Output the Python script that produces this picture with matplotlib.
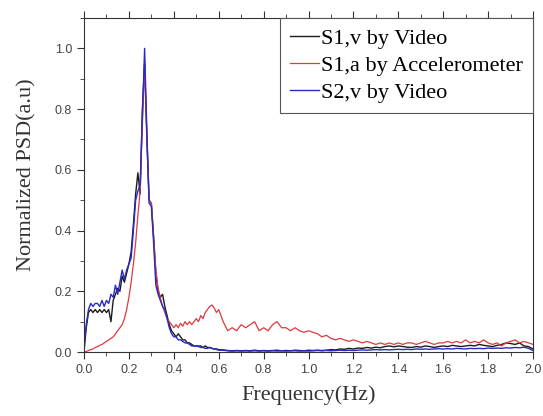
import numpy as np
import matplotlib
matplotlib.use("Agg")
import matplotlib.pyplot as plt
from matplotlib.ticker import MultipleLocator

## donnees lues sur la figure
# partie basse frequence, pas 0.01 Hz (0.00 -> 0.60)
f_lo = [round(0.01 * k, 2) for k in range(61)]
s1v_lo = [0.00, 0.08, 0.13, 0.14, 0.13, 0.14, 0.13, 0.14, 0.13, 0.14,
          0.13, 0.14, 0.10, 0.17, 0.19, 0.21, 0.20, 0.25, 0.23, 0.26,
          0.29, 0.33, 0.42, 0.52, 0.59, 0.52, 0.80, 0.95, 0.70, 0.50,
          0.49, 0.38, 0.26, 0.20, 0.18, 0.19, 0.15, 0.12, 0.09, 0.07,
          0.06, 0.05, 0.06, 0.05, 0.04, 0.04, 0.03, 0.03, 0.025, 0.02,
          0.02, 0.02, 0.02, 0.015, 0.02, 0.015, 0.015, 0.012, 0.01, 0.01,
          0.008]
s2v_lo = [0.02, 0.09, 0.14, 0.16, 0.15, 0.16, 0.16, 0.15, 0.17, 0.15,
          0.17, 0.16, 0.19, 0.18, 0.22, 0.19, 0.23, 0.27, 0.24, 0.27,
          0.29, 0.31, 0.40, 0.50, 0.53, 0.55, 0.78, 1.00, 0.72, 0.49,
          0.48, 0.36, 0.22, 0.19, 0.17, 0.15, 0.14, 0.11, 0.08, 0.06,
          0.05, 0.05, 0.04, 0.04, 0.035, 0.03, 0.03, 0.025, 0.02, 0.02,
          0.02, 0.018, 0.015, 0.015, 0.012, 0.012, 0.015, 0.012, 0.01, 0.008,
          0.006]
s1a_lo = [0.00, 0.002, 0.005, 0.008, 0.01, 0.015, 0.018, 0.022, 0.025, 0.03,
          0.035, 0.04, 0.045, 0.05, 0.06, 0.07, 0.08, 0.09, 0.11, 0.14,
          0.18, 0.23, 0.29, 0.36, 0.45, 0.53, 0.75, 0.95, 0.72, 0.50,
          0.49, 0.38, 0.27, 0.21, 0.18, 0.15, 0.13, 0.11, 0.10, 0.09,
          0.08, 0.09, 0.08, 0.095, 0.085, 0.10, 0.09, 0.10, 0.09, 0.10,
          0.11, 0.10, 0.12, 0.11, 0.13, 0.14, 0.15, 0.155, 0.145, 0.13,
          0.14]

# partie haute frequence, pas 0.02 Hz (0.62 -> 2.00)
f_hi = [round(0.62 + 0.02 * k, 2) for k in range(70)]
s1v_hi = [0.007, 0.005, 0.004, 0.005, 0.004, 0.005, 0.004, 0.006, 0.004, 0.005,
          0.004, 0.005, 0.006, 0.004, 0.005, 0.004, 0.006, 0.005, 0.004, 0.006,
          0.005, 0.006, 0.005, 0.006, 0.008, 0.007, 0.01, 0.009, 0.012, 0.01,
          0.013, 0.012, 0.015, 0.013, 0.016, 0.014, 0.018, 0.02, 0.017, 0.02,
          0.018, 0.016, 0.015, 0.018, 0.016, 0.02, 0.018, 0.015, 0.018, 0.02,
          0.018, 0.022, 0.02, 0.018, 0.02, 0.022, 0.02, 0.025, 0.022, 0.02,
          0.018, 0.022, 0.025, 0.03, 0.028, 0.025, 0.03, 0.02, 0.018, 0.01]
s2v_hi = [0.006, 0.004, 0.003, 0.004, 0.003, 0.004, 0.003, 0.004, 0.003, 0.004,
          0.003, 0.004, 0.003, 0.004, 0.003, 0.004, 0.004, 0.003, 0.004, 0.003,
          0.004, 0.005, 0.004, 0.005, 0.004, 0.005, 0.006, 0.005, 0.006, 0.005,
          0.006, 0.007, 0.006, 0.007, 0.008, 0.007, 0.008, 0.007, 0.008, 0.009,
          0.008, 0.009, 0.008, 0.01, 0.009, 0.01, 0.009, 0.01, 0.011, 0.01,
          0.011, 0.01, 0.012, 0.011, 0.01, 0.012, 0.011, 0.012, 0.011, 0.013,
          0.012, 0.013, 0.012, 0.014, 0.013, 0.015, 0.014, 0.016, 0.012, 0.005]
s1a_hi = [0.10, 0.07, 0.08, 0.07, 0.09, 0.08, 0.09, 0.10, 0.07, 0.08,
          0.07, 0.09, 0.10, 0.08, 0.08, 0.07, 0.08, 0.07, 0.065, 0.07,
          0.065, 0.06, 0.05, 0.055, 0.045, 0.04, 0.045, 0.04, 0.035, 0.04,
          0.035, 0.03, 0.035, 0.03, 0.025, 0.03, 0.025, 0.03, 0.025, 0.03,
          0.025, 0.03, 0.03, 0.025, 0.03, 0.035, 0.03, 0.025, 0.03, 0.03,
          0.035, 0.03, 0.035, 0.03, 0.04, 0.03, 0.035, 0.03, 0.04, 0.03,
          0.025, 0.03, 0.02, 0.03, 0.035, 0.04, 0.03, 0.035, 0.03, 0.025]

freq = f_lo + f_hi
s1v = s1v_lo + s1v_hi
s1a = s1a_lo + s1a_hi
s2v = s2v_lo + s2v_hi

labels = ["S1,v by Video", "S1,a by Accelerometer", "S2,v by Video"]
couleurs = ["#1c1c1c", "#e0393e", "#2a2ac8"]
xticks = [0.0, 0.2, 0.4, 0.6, 0.8, 1.0, 1.2, 1.4, 1.6, 1.8, 2.0]
yticks = [0.0, 0.2, 0.4, 0.6, 0.8, 1.0]

## figure
fig = plt.figure(figsize=(5.43, 4.16), dpi=100)
ax = fig.add_axes([0.1547, 0.1538, 0.8269, 0.8029])

ax.plot(freq, s1v, color=couleurs[0], lw=1.0, label=labels[0])
ax.plot(freq, s1a, color=couleurs[1], lw=0.9, label=labels[1])
ax.plot(freq, s2v, color=couleurs[2], lw=1.0, label=labels[2])

ax.set_xlim(0, 2.0)
ax.set_ylim(0, 1.1)
ax.set_xticks(xticks)
ax.set_xticklabels(["%.1f" % v for v in xticks], fontfamily="Liberation Sans")
ax.set_yticks(yticks)
ax.set_yticklabels(["%.1f" % v for v in yticks], fontfamily="Liberation Sans")
ax.xaxis.set_minor_locator(MultipleLocator(0.1))
ax.yaxis.set_minor_locator(MultipleLocator(0.1))
ax.tick_params(which="both", direction="out", top=True, right=False,
               colors="#333333", labelcolor="#444444")
ax.tick_params(which="major", length=5, labelsize=9)
ax.tick_params(which="minor", length=3)
for s in ax.spines.values():
    s.set_color("#333333")

ax.set_xlabel("Frequency(Hz)", fontfamily="Liberation Serif", fontsize=16,
              color="#333333", labelpad=7)
ax.set_ylabel("Normalized PSD(a.u)", fontfamily="Liberation Serif", fontsize=16,
              color="#333333", labelpad=7)
ax.yaxis.set_label_coords(-0.105, 0.53)

leg = ax.legend(loc="upper right", bbox_to_anchor=(1, 1), borderaxespad=0,
                fancybox=False, edgecolor="#555555", framealpha=1,
                prop={"family": "Liberation Serif", "size": 16},
                handlelength=1.3, handletextpad=0.1, labelspacing=0.3,
                borderpad=0.45)
leg.get_frame().set_linewidth(0.8)

fig.savefig("out.png", dpi=100)
